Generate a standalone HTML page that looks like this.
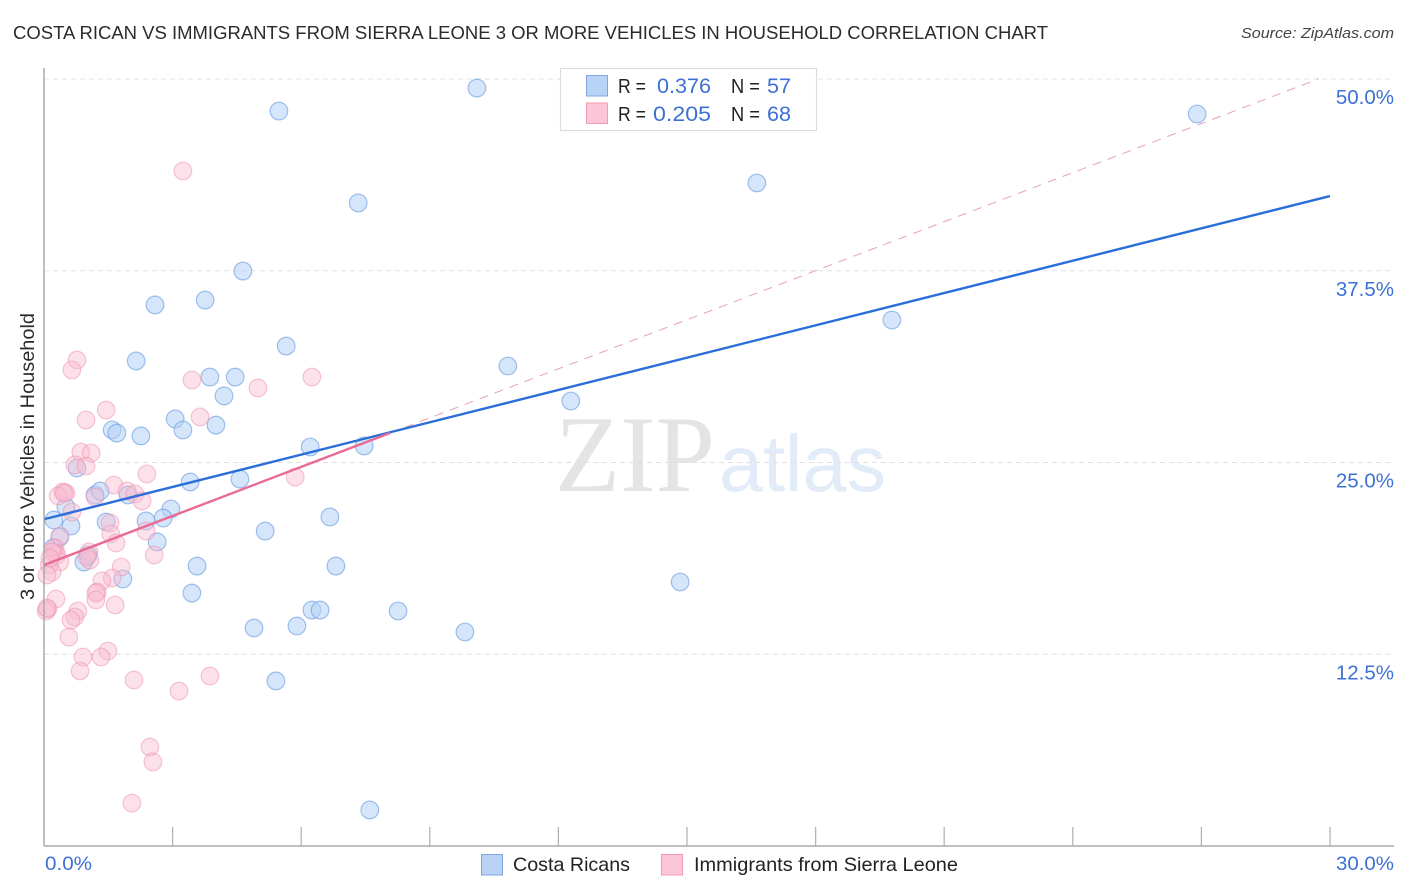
<!DOCTYPE html>
<html lang="en">
<head>
<meta charset="utf-8">
<title>Costa Rican vs Immigrants from Sierra Leone Correlation Chart</title>
<style>
html,body{margin:0;padding:0;background:#fff;width:1406px;height:892px;overflow:hidden}
svg{display:block;font-family:"Liberation Sans",sans-serif}
</style>
</head>
<body>
<svg id="chart" xmlns="http://www.w3.org/2000/svg" width="1406" height="892" viewBox="0 0 1406 892">
  <text x="13" y="39" font-size="18.5" fill="#2b2b2b" textLength="1035" lengthAdjust="spacingAndGlyphs">COSTA RICAN VS IMMIGRANTS FROM SIERRA LEONE 3 OR MORE VEHICLES IN HOUSEHOLD CORRELATION CHART</text>
  <text x="1394" y="38" font-size="15" font-style="italic" fill="#444" text-anchor="end" textLength="153" lengthAdjust="spacingAndGlyphs">Source: ZipAtlas.com</text>
  <text x="555" y="491" font-family="'Liberation Serif',serif" font-size="109" fill="#e4e4e4" textLength="160" lengthAdjust="spacingAndGlyphs">ZIP</text>
  <text x="719" y="491" font-size="80" fill="#e2ebf8" textLength="167" lengthAdjust="spacingAndGlyphs">atlas</text>
  <g id="grid"></g>
  <g id="ticks"></g>
  <g id="ylabels"></g>
  <g id="blue-points"></g>
  <g id="pink-points"></g>
  <g id="trends"></g>
  <line x1="44" y1="68" x2="44" y2="846" stroke="#aaa" stroke-width="1.5"/>
  <line x1="44" y1="846" x2="1394" y2="846" stroke="#aaa" stroke-width="1.5"/>
  <text transform="translate(34,456.5) rotate(-90)" font-size="19.5" fill="#2b2b2b" text-anchor="middle" textLength="287" lengthAdjust="spacingAndGlyphs">3 or more Vehicles in Household</text>
  <text x="45" y="870" font-size="19.5" fill="#3d70d6" textLength="47" lengthAdjust="spacingAndGlyphs">0.0%</text>
  <text x="1394" y="870" font-size="19.5" fill="#3d70d6" text-anchor="end" textLength="58" lengthAdjust="spacingAndGlyphs">30.0%</text>

  <g>
    <rect x="560.5" y="68.5" width="256" height="62" fill="#fff" stroke="#dcdcdc" stroke-width="1.2"/>
    <rect x="586.5" y="75.5" width="21" height="20.5" fill="#b9d3f7" stroke="#7fa6e0" stroke-width="1"/>
    <rect x="586.5" y="103" width="21" height="20.5" fill="#fcc6d8" stroke="#f29ab6" stroke-width="1"/>
    <text x="618" y="93" font-size="20.5" fill="#222" textLength="28" lengthAdjust="spacingAndGlyphs">R =</text>
    <text x="657" y="93" font-size="21.5" fill="#3d70d6" textLength="54" lengthAdjust="spacingAndGlyphs">0.376</text>
    <text x="731" y="93" font-size="20.5" fill="#222" textLength="29" lengthAdjust="spacingAndGlyphs">N =</text>
    <text x="767" y="93" font-size="21.5" fill="#3d70d6" textLength="24" lengthAdjust="spacingAndGlyphs">57</text>
    <text x="618" y="121" font-size="20.5" fill="#222" textLength="28" lengthAdjust="spacingAndGlyphs">R =</text>
    <text x="653" y="121" font-size="21.5" fill="#3d70d6" textLength="58" lengthAdjust="spacingAndGlyphs">0.205</text>
    <text x="731" y="121" font-size="20.5" fill="#222" textLength="29" lengthAdjust="spacingAndGlyphs">N =</text>
    <text x="767" y="121" font-size="21.5" fill="#3d70d6" textLength="24" lengthAdjust="spacingAndGlyphs">68</text>
  </g>

  <g>
    <rect x="481.5" y="854.5" width="21" height="20.5" fill="#b9d3f7" stroke="#7fa6e0" stroke-width="1"/>
    <text x="513" y="871" font-size="19.5" fill="#222" textLength="117" lengthAdjust="spacingAndGlyphs">Costa Ricans</text>
  </g>
  <g>
    <rect x="661.5" y="854.5" width="21" height="20.5" fill="#fcc6d8" stroke="#f29ab6" stroke-width="1"/>
    <text x="694" y="871" font-size="19.5" fill="#222" textLength="264" lengthAdjust="spacingAndGlyphs">Immigrants from Sierra Leone</text>
  </g>
</svg>
<script>
const yTickValues = [12.5, 25, 37.5, 50];
const yTickLabels = ["12.5%", "25.0%", "37.5%", "50.0%"];
const xTickValues = [3, 6, 9, 12, 15, 18, 21, 24, 27, 30];

const blueX = [5.48,10.10,26.90,16.63,7.33,4.64,2.59,3.76,2.15,5.65,19.78,10.82,3.87,4.46,12.29,4.20,3.06,4.01,3.24,1.59,1.70,2.26,6.21,7.47,3.41,4.57,0.77,1.19,1.31,1.96,2.96,2.38,2.78,1.45,0.51,0.23,0.63,6.67,5.16,0.37,2.64,0.21,3.57,6.81,0.93,1.03,1.84,14.84,3.45,6.25,6.44,8.26,4.90,5.90,9.82,5.41,7.60];
const blueY = [47.91,49.41,47.72,43.22,41.92,37.48,35.27,35.59,31.62,32.59,34.29,31.29,30.57,30.57,29.01,29.34,27.84,27.44,27.12,27.12,26.92,26.73,26.01,26.08,23.73,23.92,24.64,22.88,23.14,22.88,21.97,21.19,21.38,21.12,22.10,21.25,20.86,21.45,20.53,20.14,19.82,19.43,18.25,18.25,18.51,18.97,17.41,17.21,16.49,15.38,15.38,15.32,14.21,14.34,13.95,10.76,2.35];

const pinkX = [3.24,0.77,0.65,3.45,4.99,6.25,1.45,0.98,3.64,0.86,1.10,0.72,0.98,2.40,5.86,1.63,0.44,0.51,0.33,1.94,2.12,2.29,1.19,0.65,1.54,1.56,2.38,0.37,1.68,2.57,1.05,1.07,0.26,0.26,0.30,0.37,0.12,0.19,0.07,1.80,1.59,1.35,1.24,1.21,1.21,1.66,0.28,0.09,0.05,0.79,0.72,0.63,0.58,0.91,1.49,1.33,0.84,2.10,3.87,3.15,2.47,2.54,2.05,1.00,0.19,0.14,0.47,0.07];
const pinkY = [44.00,31.68,31.03,30.38,29.86,30.57,28.42,27.77,27.97,25.68,25.62,24.84,24.77,24.25,24.05,23.53,23.08,23.01,22.82,23.14,22.95,22.49,22.75,21.77,21.06,20.34,20.53,20.21,19.75,18.97,19.17,18.64,19.43,19.10,18.97,18.51,18.32,17.86,17.67,18.19,17.47,17.28,16.56,16.49,16.04,15.71,16.10,15.45,15.32,15.32,14.93,14.73,13.62,12.32,12.71,12.32,11.41,10.82,11.08,10.10,6.45,5.48,2.80,18.84,19.17,18.77,23.01,15.51];

const blueTrendX = [0, 30];
const blueTrendY = [21.3, 42.37];
const pinkTrendX = [0, 8.07];
const pinkTrendY = [18.32, 26.92];
const pinkExtendY = 50;

const NS = "http://www.w3.org/2000/svg";
function xScale(v) { return 44 + v * (1286 / 30); }
function yScale(v) { return 846 - v * (767 / 50); }
function mk(tag, parent, attrs) {
  const el = document.createElementNS(NS, tag);
  for (const k in attrs) el.setAttribute(k, attrs[k]);
  parent.appendChild(el);
  return el;
}

const gridG = document.getElementById("grid");
const labelG = document.getElementById("ylabels");
yTickValues.forEach(function (v, i) {
  const line = mk("line", gridG, { x1: 44, x2: 1394, y1: yScale(v), y2: yScale(v), stroke: "#e0e0e0", "stroke-width": 1, "stroke-dasharray": "5 4" });
  
  
  const t = mk("text", labelG, { x: 1394, y: yScale(v) + 25, "font-size": 20.5, fill: "#3d70d6", "text-anchor": "end" });
  
  
  t.textContent = yTickLabels[i];
});

const tickG = document.getElementById("ticks");
xTickValues.forEach(function (v) {
  const tick = mk("line", tickG, { x1: xScale(v), x2: xScale(v), y1: 827, y2: 846, stroke: "#b5b5b5", "stroke-width": 1.3 });
  
  
});

const blueG = document.getElementById("blue-points");
blueX.forEach(function (v, i) {
  const c = mk("circle", blueG, { cx: xScale(v), cy: yScale(blueY[i]), r: 8.8, fill: "#b5d1f5", "fill-opacity": 0.55, stroke: "#6f9fe3", "stroke-opacity": 0.65, "stroke-width": 1.2 });
  
  
});

const pinkG = document.getElementById("pink-points");
pinkX.forEach(function (v, i) {
  const c = mk("circle", pinkG, { cx: xScale(v), cy: yScale(pinkY[i]), r: 8.8, fill: "#f9bdd0", "fill-opacity": 0.45, stroke: "#ee8fae", "stroke-opacity": 0.5, "stroke-width": 1.2 });
  
  
});

const trendG = document.getElementById("trends");
const pinkSlope = (pinkTrendY[1] - pinkTrendY[0]) / (pinkTrendX[1] - pinkTrendX[0]);
const pinkExtendX = pinkTrendX[0] + (pinkExtendY - pinkTrendY[0]) / pinkSlope;
const dash = mk("line", trendG, { x1: xScale(pinkTrendX[1]), y1: yScale(pinkTrendY[1]), x2: xScale(pinkExtendX), y2: yScale(pinkExtendY), stroke: "#e8a0b8", "stroke-width": 1, "stroke-dasharray": "9 7" });


const blueLine = mk("line", trendG, { x1: xScale(blueTrendX[0]), y1: yScale(blueTrendY[0]), x2: xScale(blueTrendX[1]), y2: yScale(blueTrendY[1]), stroke: "#2a6fd8", "stroke-width": 2.4 });


const pinkLine = mk("line", trendG, { x1: xScale(pinkTrendX[0]), y1: yScale(pinkTrendY[0]), x2: xScale(pinkTrendX[1]), y2: yScale(pinkTrendY[1]), stroke: "#ea6a96", "stroke-width": 2.4 });


</script>
</body>
</html>
